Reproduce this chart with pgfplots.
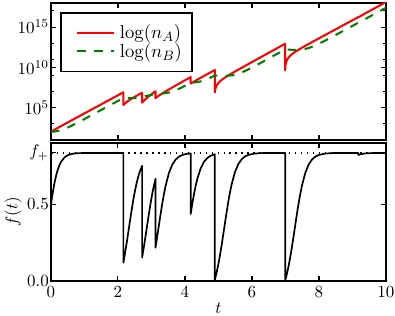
\documentclass[border=0pt]{standalone}
\usepackage{pgfplots}
\pgfplotsset{compat=1.18}
\definecolor{mplgreen}{rgb}{0,0.5,0}
\begin{document}
\begin{tikzpicture}
\path[use as bounding box] (-30pt,-20.6pt) rectangle (202.4pt,165.3pt);
\pgfplotsset{
  myax/.style={scale only axis, width=197.1pt, xmin=0, xmax=10,
    axis line style={line width=1pt},
    major tick length=3pt, minor tick length=1.8pt,
    tick style={black, line width=0.6pt},
    xtick={0,2,4,6,8,10},
    tick label style={font=\fontsize{10}{12}\selectfont},
    yticklabel style={inner xsep=1pt}},
}
\begin{axis}[myax, at={(0pt,0pt)}, anchor=south west, height=81.2pt,
  ymin=0, ymax=0.9, ytick={0,0.5,0.835}, yticklabels={$0.0$,$0.5$,$f_+$},
  xlabel={$t$}, ylabel={$f(t)$},
  xlabel style={at={(axis description cs:0.5,-0.196)}, anchor=center},
  ylabel style={at={(axis description cs:-0.113,0.5)}, anchor=center}]
\addplot[black, line width=0.9pt, dash pattern=on 0.9pt off 2.6pt] coordinates {(0,0.835) (10,0.835)};
\addplot[black, line width=1pt, line join=round] coordinates {
(0,0.5) (0.025,0.5374) (0.05,0.5724) (0.1,0.6341) (0.15,0.6843) (0.2,0.7238) (0.25,0.7539) (0.3,0.7764) (0.4,0.8050) (0.5,0.8199) (0.6,0.8274) (0.7,0.8312) (0.8,0.8331) (1.0,0.8345) (1.2,0.835) (2.16,0.835)
(2.16,0.119) (2.21,0.1807) (2.26,0.2490) (2.31,0.3213) (2.36,0.3946) (2.41,0.4658) (2.46,0.5319) (2.51,0.5909) (2.56,0.6417) (2.61,0.6841) (2.66,0.7185) (2.72,0.7507)
(2.72,0.152) (2.77,0.2175) (2.82,0.2884) (2.87,0.3616) (2.92,0.4342) (2.97,0.5029) (3.02,0.5653) (3.07,0.6198) (3.12,0.6660)
(3.12,0.217) (3.17,0.2878) (3.22,0.3611) (3.27,0.4336) (3.32,0.5024) (3.37,0.5649) (3.42,0.6194) (3.52,0.7037) (3.62,0.7583) (3.72,0.7914) (3.82,0.8106) (3.92,0.8214) (4.02,0.8275) (4.17,0.8319)
(4.17,0.437) (4.22,0.5055) (4.27,0.5676) (4.32,0.6218) (4.37,0.6677) (4.47,0.7355) (4.57,0.7778) (4.67,0.8027) (4.77,0.8170) (4.89,0.8262)
(4.89,0.008) (4.895,0.0119) (4.90,0.0159) (4.91,0.0242) (4.94,0.0509) (4.99,0.1023) (5.04,0.1618) (5.09,0.2283) (5.14,0.2997) (5.19,0.3731) (5.24,0.4452) (5.29,0.5131) (5.34,0.5743) (5.39,0.6276) (5.49,0.7091) (5.59,0.7617) (5.69,0.7934) (5.79,0.8117) (5.89,0.8220) (6.09,0.8311) (6.29,0.8337) (6.59,0.8348) (6.99,0.835)
(6.99,0.0025) (6.995,0.0063) (7.00,0.0102) (7.01,0.0182) (7.04,0.0443) (7.09,0.0944) (7.14,0.1528) (7.19,0.2184) (7.24,0.2893) (7.29,0.3625) (7.34,0.4351) (7.39,0.5037) (7.44,0.5660) (7.49,0.6205) (7.59,0.7043) (7.69,0.7587) (7.79,0.7916) (7.89,0.8107) (7.99,0.8215) (8.19,0.8309) (8.39,0.8337) (8.69,0.8348) (9.17,0.835)
(9.17,0.822) (9.27,0.8278) (9.37,0.8313) (9.47,0.8331) (9.67,0.8345) (10,0.835)
};
\end{axis}
\begin{axis}[myax, at={(0pt,83pt)}, anchor=south west, height=80.6pt,
  ymin=1, ymax=18, ytick={5,10,15}, yticklabels={$10^{5}$,$10^{10}$,$10^{15}$},
  minor ytick={1,3,7,9,11,13,17}, xticklabels={},
  legend image code/.code={\path (0pt,0pt) (27.7pt,0pt); \draw[#1] (3.6pt,0pt) -- (25.4pt,0pt);},
  legend style={at={(0.027,0.932)}, anchor=north west, draw=black, line width=1pt, fill=white,
    inner xsep=5.3pt, inner ysep=6.5pt, row sep=0pt, font=\fontsize{11}{13}\selectfont,
    nodes={inner sep=0.5pt}, cells={anchor=west}}]
\addplot[red, line width=1.2pt, line join=round] coordinates {
(0,2.0) (0.1,2.244) (0.2,2.479) (0.3,2.710) (0.4,2.937) (0.5,3.164) (0.6,3.390) (0.8,3.841) (1.0,4.291) (2.16,6.900)
(2.16,5.327) (2.21,5.530) (2.26,5.699) (2.36,5.987) (2.46,6.244) (2.56,6.485) (2.66,6.718) (2.72,6.856)
(2.72,5.631) (2.77,5.850) (2.82,6.046) (2.92,6.397) (3.02,6.723) (3.12,7.037)
(3.12,6.180) (3.17,6.342) (3.22,6.490) (3.32,6.761) (3.42,7.015) (3.52,7.259) (3.62,7.499) (3.72,7.736) (3.82,7.972) (3.92,8.208) (4.02,8.443) (4.17,8.795)
(4.17,7.990) (4.22,8.117) (4.27,8.241) (4.37,8.479) (4.47,8.711) (4.57,8.940) (4.67,9.167) (4.77,9.394) (4.89,9.664)
(4.89,6.894) (4.895,7.068) (4.90,7.195) (4.91,7.377) (4.94,7.705) (4.99,8.023) (5.04,8.243) (5.09,8.422) (5.19,8.723) (5.29,8.988) (5.39,9.235) (5.49,9.474) (5.59,9.709) (5.69,9.941) (5.89,10.403) (6.09,10.864) (6.39,11.553) (6.99,12.931)
(6.99,9.626) (6.995,10.030) (7.00,10.239) (7.01,10.490) (7.04,10.879) (7.09,11.219) (7.14,11.446) (7.19,11.627) (7.29,11.927) (7.39,12.188) (7.49,12.432) (7.59,12.667) (7.69,12.897) (7.79,13.125) (7.99,13.577) (8.19,14.028) (8.49,14.703) (9.17,16.233)
(9.17,16.193) (9.37,16.672) (10,18.100)
};
\addlegendentry{$\log(n_A)$}
\addplot[mplgreen, line width=1.2pt, dash pattern=on 5pt off 5pt, line join=round] coordinates {
(0,2.0) (0.1,2.036) (0.2,2.106) (0.3,2.215) (0.4,2.360) (0.5,2.533) (0.6,2.728) (0.8,3.150) (1.0,3.590) (2.16,6.196)
(2.21,6.186) (2.26,6.178) (2.36,6.173) (2.46,6.188) (2.56,6.232) (2.66,6.311) (2.72,6.378)
(2.77,6.406) (2.82,6.438) (2.92,6.512) (3.02,6.609) (3.12,6.737)
(3.22,6.738) (3.32,6.757) (3.42,6.803) (3.52,6.883) (3.62,7.002) (3.72,7.157) (3.82,7.341) (3.92,7.545) (4.02,7.762) (4.17,8.100)
(4.27,8.123) (4.37,8.176) (4.47,8.267) (4.57,8.396) (4.67,8.558) (4.77,8.744) (4.89,8.987)
(4.99,8.966) (5.09,8.951) (5.19,8.948) (5.29,8.965) (5.39,9.008) (5.49,9.087) (5.59,9.204) (5.69,9.357) (5.89,9.739) (6.09,10.172) (6.39,10.851) (6.99,12.227)
(7.09,12.201) (7.19,12.180) (7.29,12.172) (7.39,12.182) (7.49,12.218) (7.59,12.290) (7.69,12.400) (7.79,12.546) (7.99,12.914) (8.19,13.337) (8.49,14.001) (9.17,15.529) (10,17.396)
};
\addlegendentry{$\log(n_B)$}
\end{axis}
\end{tikzpicture}
\end{document}
